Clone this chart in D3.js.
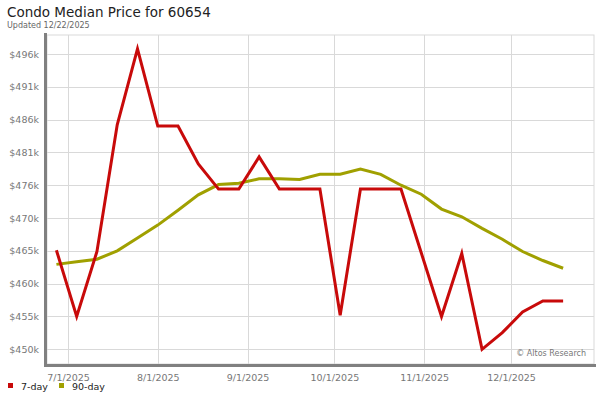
<!DOCTYPE html>
<html><head><meta charset="utf-8">
<script src="https://cdn.jsdelivr.net/npm/d3@7"></script>
<style>body{margin:0;background:#fff;font-family:"DejaVu Sans",Verdana,sans-serif}</style>
</head><body>
<svg id="c" width="600" height="400"></svg>
<script>
const dates = ["2025-06-27","2025-07-04","2025-07-11","2025-07-18","2025-07-25","2025-08-01","2025-08-08","2025-08-15","2025-08-22","2025-08-29","2025-09-05","2025-09-12","2025-09-19","2025-09-26","2025-10-03","2025-10-10","2025-10-17","2025-10-24","2025-10-31","2025-11-07","2025-11-14","2025-11-21","2025-11-28","2025-12-05","2025-12-12","2025-12-19"];
const sevenDay = [465400,455100,465200,484900,496700,484700,484700,478800,474900,474900,479900,474900,474900,474900,455300,474900,474900,474900,465000,455100,464900,450000,452600,455800,457500,457500];
const ninetyDay = [463200,463600,464000,465300,467300,469300,471600,474000,475600,475800,476500,476500,476400,477200,477200,478000,477200,475500,474100,471800,470600,468800,467100,465200,463800,462600];
const yTickValues = [450000,455100,460200,465300,470400,475500,480600,485700,490800,495900];
const yTickLabels = ["$450k","$455k","$460k","$465k","$470k","$476k","$481k","$486k","$491k","$496k"];
const xTickDates = ["2025-07-01","2025-08-01","2025-09-01","2025-10-01","2025-11-01","2025-12-01"];
const xTickLabels = ["7/1/2025","8/1/2025","9/1/2025","10/1/2025","11/1/2025","12/1/2025"];
const seriesNames = ["7-day","90-day"];
const seriesColors = ["#c80a0a","#a0a000"];

const parse = d3.utcParse("%Y-%m-%d");
const svg = d3.select("#c");
const L = 47, R = 594, T = 35, B = 364;

const x = d3.scaleUtc().domain([parse("2025-07-01"), parse("2025-12-01")]).range([68, 511]);
const y = d3.scaleLinear().domain([450000, 495900]).range([349.3, 54]);

svg.append("rect").attr("x", L).attr("y", T).attr("width", R - L).attr("height", B - T)
  .attr("fill", "#fff").attr("stroke", "#d9d9d9").attr("stroke-width", 1);

const yAxis = d3.axisLeft(y).tickValues(yTickValues)
  .tickFormat((d, i) => yTickLabels[i]).tickSize(-(R - L)).tickPadding(7);
const gy = svg.append("g").attr("transform", `translate(${L},0)`).call(yAxis);
gy.select(".domain").remove();
gy.selectAll(".tick line").attr("stroke", "#d9d9d9").attr("x1", 0).attr("x2", R - L).attr("shape-rendering","crispEdges");
gy.selectAll(".tick text").attr("fill", "#777").attr("font-size", 9.5)
  .attr("font-family", "'DejaVu Sans',sans-serif").attr("x", -8);

const xAxis = d3.axisBottom(x).tickValues(xTickDates.map(parse))
  .tickFormat((d, i) => xTickLabels[i]).tickSize(-(B - T)).tickPadding(10);
const gx = svg.append("g").attr("transform", `translate(0,${B})`).call(xAxis);
gx.select(".domain").remove();
gx.selectAll(".tick line").attr("stroke", "#d9d9d9").attr("shape-rendering","crispEdges");
gx.selectAll(".tick text").attr("fill", "#777").attr("font-size", 9.5)
  .attr("font-family", "'DejaVu Sans',sans-serif");

svg.append("rect").attr("x", 44).attr("y", 33).attr("width", 3).attr("height", 334).attr("fill", "#808080");
svg.append("rect").attr("x", 44).attr("y", 364).attr("width", 552).attr("height", 3).attr("fill", "#808080");

const pts = (vals) => dates.map((d, i) => [parse(d), vals[i]]);
const line = d3.line().x(d => x(d[0])).y(d => y(d[1]));
[ninetyDay, sevenDay].forEach((vals, k) => {
  const idx = k === 0 ? 1 : 0;
  svg.append("path").datum(pts(vals)).attr("d", line).attr("fill", "none")
    .attr("stroke", seriesColors[idx]).attr("stroke-width", 3).attr("stroke-linejoin", "miter");
});

svg.append("text").attr("x", 586).attr("y", 356).attr("text-anchor", "end")
  .attr("fill", "#777").attr("font-size", 8).text("© Altos Research");

svg.append("text").attr("x", 7).attr("y", 17).attr("font-size", 13.5).attr("fill", "#222")
  .text("Condo Median Price for 60654");
svg.append("text").attr("x", 7).attr("y", 28).attr("font-size", 8).attr("fill", "#666")
  .text("Updated 12/22/2025");

const lg = svg.append("g");
const legX = [8, 59];
seriesNames.forEach((n, i) => {
  lg.append("rect").attr("x", legX[i]).attr("y", 383).attr("width", 5).attr("height", 5).attr("fill", seriesColors[i]);
  lg.append("text").attr("x", legX[i] + 13).attr("y", 390).attr("font-size", 9.5).attr("fill", "#222").text(n);
});
</script>
</body></html>
